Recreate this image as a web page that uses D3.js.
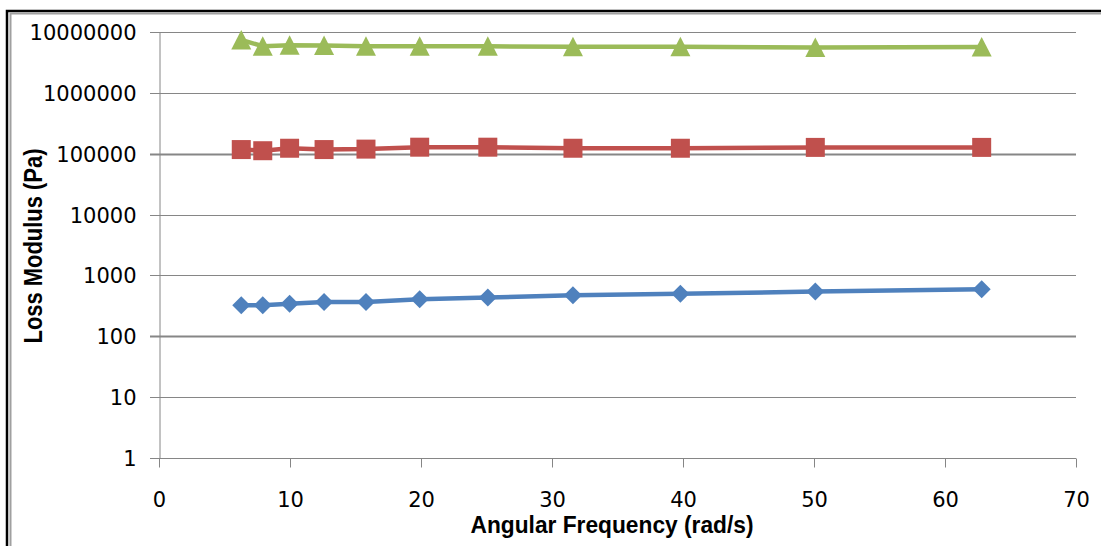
<!DOCTYPE html>
<html>
<head>
<meta charset="utf-8">
<script src="https://cdn.jsdelivr.net/npm/d3@7"></script>
<style>
  body { margin: 0; background: #fff; }
  svg { display: block; }
</style>
</head>
<body>
<svg id="chart" width="1101" height="546"></svg>
<script>
// angular frequency (rad/s)
const freq = [6.28, 7.92, 9.97, 12.6, 15.8, 19.9, 25.1, 31.6, 39.8, 50.1, 62.8];
// loss modulus (Pa), one array per sample
const blueVals = [323, 323, 344, 366, 366, 405, 432, 471, 502, 542, 591];
const redVals = [117000, 112000, 123000, 117000, 119000, 128000, 128000, 123000, 123000, 127000, 127000];
const greenVals = [7390000, 5850000, 6050000, 6000000, 5820000, 5820000, 5820000, 5740000, 5740000, 5570000, 5670000];
const yTicks = [1, 10, 100, 1000, 10000, 100000, 1000000, 10000000];
const xTicks = [0, 10, 20, 30, 40, 50, 60, 70];

const series = [
  { vals: blueVals, color: '#4F81BD', marker: 'diamond' },
  { vals: redVals, color: '#C0504D', marker: 'square' },
  { vals: greenVals, color: '#9BBB59', marker: 'triangle' },
];

const svg = d3.select('#chart');
const axisColor = '#868686';

// frame
svg.append('path').attr('d', 'M7,546 V11 H1101').attr('fill', 'none').attr('stroke', '#000').attr('stroke-width', 2.5);
svg.append('path').attr('d', 'M10.5,546 V13.5 H1101').attr('fill', 'none').attr('stroke', '#a0a0a0').attr('stroke-width', 2);

const x = d3.scaleLinear().domain([0, 70]).range([159, 1076]);
const y = d3.scaleLog().domain([1, 1e7]).range([458, 32]);

// gridlines
svg.append('g').selectAll('line').data(yTicks).join('line')
  .attr('x1', 150).attr('x2', x(70))
  .attr('y1', (d) => Math.round(y(d)) + 0.5).attr('y2', (d) => Math.round(y(d)) + 0.5)
  .attr('stroke', axisColor)
  .attr('stroke-width', (d) => (d === 100 || d === 100000 ? 2 : 1));

// y axis
const yAxis = svg.append('g').attr('transform', 'translate(159.5,0)')
  .call(d3.axisLeft(y).tickValues(yTicks).tickFormat(d3.format('d')).tickSize(0).tickPadding(23).tickSizeOuter(0));
yAxis.select('.domain').attr('stroke', axisColor);
yAxis.selectAll('text').attr('font-family', 'DejaVu Sans').attr('font-size', 21).attr('fill', '#000').attr('dy', '0.36em');

// x axis
const xAxis = svg.append('g').attr('transform', 'translate(0,458.5)')
  .call(d3.axisBottom(x).tickValues(xTicks).tickFormat(d3.format('d')).tickSize(9).tickPadding(25).tickSizeOuter(0));
xAxis.select('.domain').attr('stroke', axisColor).attr('d', `M150,0H${x(70)}`);
xAxis.selectAll('line').attr('stroke', axisColor);
xAxis.selectAll('text').attr('font-family', 'DejaVu Sans').attr('font-size', 21).attr('fill', '#000');

// axis titles
svg.append('text')
  .attr('x', 612).attr('y', 533)
  .attr('text-anchor', 'middle')
  .attr('font-family', 'Liberation Sans').attr('font-weight', 'bold').attr('font-size', 23)
  .attr('textLength', 283).attr('lengthAdjust', 'spacingAndGlyphs')
  .text('Angular Frequency (rad/s)');

svg.append('text')
  .attr('transform', 'translate(42,246) rotate(-90)')
  .attr('text-anchor', 'middle')
  .attr('font-family', 'Liberation Sans').attr('font-weight', 'bold').attr('font-size', 25)
  .attr('textLength', 195).attr('lengthAdjust', 'spacingAndGlyphs')
  .text('Loss Modulus (Pa)');

// series
const line = d3.line().x((d) => x(d[0])).y((d) => y(d[1]));
const symbolPath = {
  diamond: 'M0,-9 L9,0 L0,9 L-9,0 Z',
  square: 'M-9.5,-9.5 H9.5 V9.5 H-9.5 Z',
  triangle: 'M0,-10 L10,9.5 L-10,9.5 Z',
};

series.forEach((s) => {
  const pts = freq.map((f, i) => [f, s.vals[i]]);
  const g = svg.append('g');
  g.append('path').datum(pts)
    .attr('d', line)
    .attr('fill', 'none')
    .attr('stroke', s.color)
    .attr('stroke-width', 4.5)
    .attr('stroke-linejoin', 'round');
  g.selectAll('path.mark').data(pts).join('path')
    .attr('class', 'mark')
    .attr('transform', (d) => `translate(${x(d[0])},${y(d[1])})`)
    .attr('d', symbolPath[s.marker])
    .attr('fill', s.color);
});
</script>
</body>
</html>
